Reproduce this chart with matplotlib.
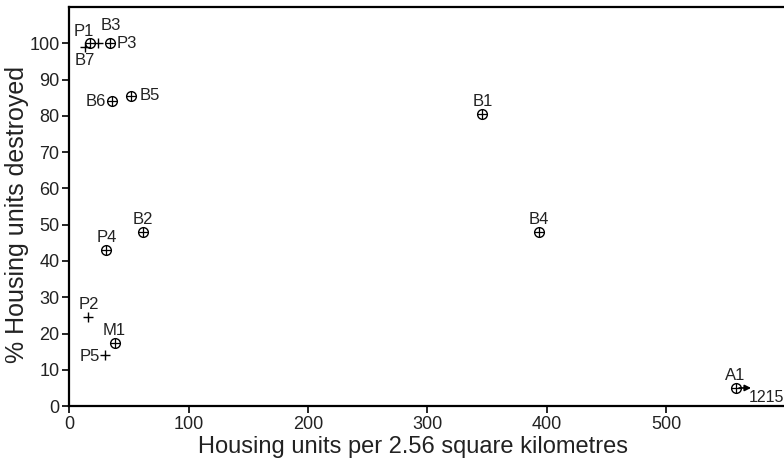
import matplotlib
matplotlib.use("Agg")
import matplotlib.pyplot as plt

plt.rcParams['font.family'] = ['Liberation Sans', 'DejaVu Sans']

# Sites drawn with a circled cross
circ_names = ["P1", "P3", "B6", "B5", "B2", "P4", "M1", "B1", "B4", "A1"]
circ_density = [17, 34, 36, 52, 62, 31, 38, 346, 393, 558]
circ_destroyed = [100, 100, 84, 85.5, 48, 43, 17.5, 80.5, 48, 5]

# Sites drawn with a plain cross
plus_names = ["B3", "B7", "P2", "P5"]
plus_density = [24, 13, 16, 30]
plus_destroyed = [100, 99, 24.5, 14]

# A1 lies off scale; its true density
a1_true_density = "1215"

x_ticks = [0, 100, 200, 300, 400, 500]
y_ticks = [0, 10, 20, 30, 40, 50, 60, 70, 80, 90, 100]

# label offsets from each marker, in points
label_offsets = {
    "P1": (-4, 8.5), "P3": (12, -0.5), "B6": (-12, 0), "B5": (13, 0.5),
    "B2": (0, 9), "P4": (0, 9), "M1": (0, 9), "B1": (0, 9), "B4": (0, 9),
    "A1": (0, 9), "B3": (9, 13), "B7": (0, -10), "P2": (0, 9), "P5": (-11, -1),
}

fig = plt.figure(figsize=(7.84, 4.62), dpi=100)
ax = fig.add_axes([0.0884, 0.121, 0.9116, 0.864])

ax.plot(circ_density, circ_destroyed, ls='none', marker='o', ms=7,
        mfc='white', mec='black', mew=1.0, zorder=3)
ax.plot(circ_density, circ_destroyed, ls='none', marker='+', ms=7,
        mec='black', mew=0.9, zorder=4)
ax.plot(plus_density, plus_destroyed, ls='none', marker='+', ms=7.5,
        mec='black', mew=1.0, zorder=3)

for name, x, y in list(zip(circ_names, circ_density, circ_destroyed)) + \
        list(zip(plus_names, plus_density, plus_destroyed)):
    dx, dy = label_offsets[name]
    ax.annotate(name, (x, y), xytext=(dx, dy), textcoords='offset points',
                ha='center', va='center', fontsize=12, color='#222222')

# off-scale arrow for A1
ia = circ_names.index("A1")
ax.annotate("", xy=(circ_density[ia] + 13, circ_destroyed[ia]),
            xytext=(circ_density[ia] + 3, circ_destroyed[ia]),
            arrowprops=dict(arrowstyle='-|>', color='black', lw=1.2,
                            mutation_scale=9, shrinkA=0, shrinkB=0))
ax.annotate(a1_true_density, (circ_density[ia], circ_destroyed[ia]),
            xytext=(22, -7), textcoords='offset points', ha='center',
            va='center', fontsize=11.5, color='#222222', annotation_clip=False)

ax.set_xlim(0, 598.6)
ax.set_ylim(0, 110)
ax.set_xticks(x_ticks)
ax.set_yticks(y_ticks)
ax.tick_params(axis='both', direction='out', length=5, width=1.2,
               labelsize=13, colors='black', labelcolor='#222222', pad=2)
for side in ['left', 'top', 'bottom']:
    ax.spines[side].set_linewidth(1.6)
ax.spines['right'].set_visible(False)

ax.set_xlabel("Housing units per 2.56 square kilometres", fontsize=17,
              color='#222222')
ax.set_ylabel("% Housing units destroyed", fontsize=18, color='#222222',
              labelpad=0)
ax.xaxis.set_label_coords(0.481, -0.074, transform=ax.transAxes)
ax.yaxis.label.set_y(0.481)

fig.savefig("out.png", dpi=100)
